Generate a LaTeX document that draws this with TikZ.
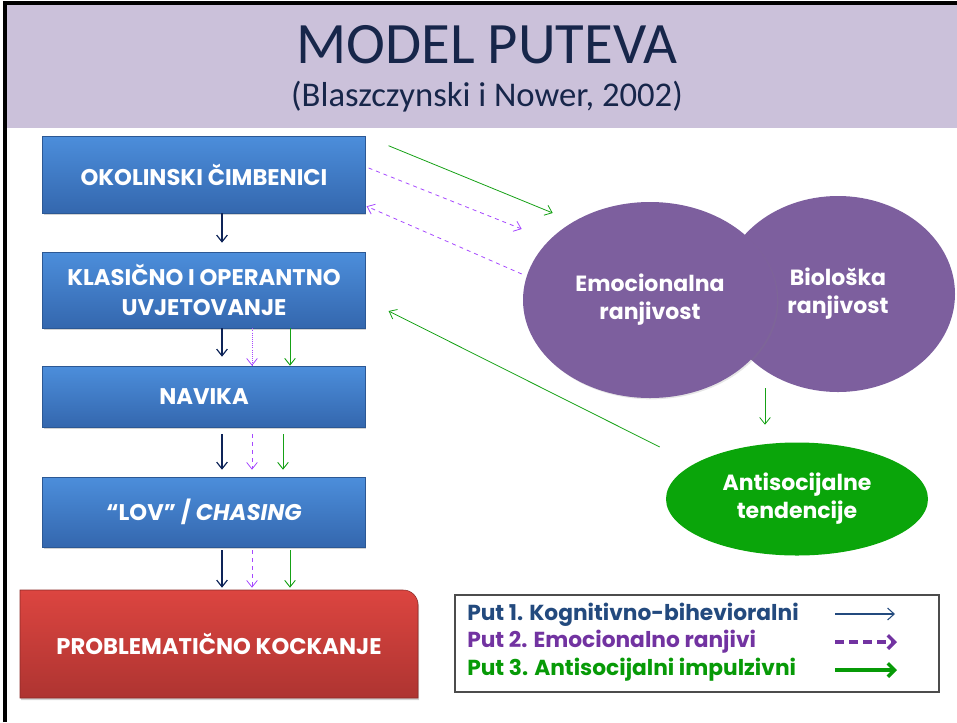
\documentclass[tikz,border=0pt]{standalone}
\usepackage{fontspec}
\setmainfont{Carlito}
\newfontfamily\gothic{Poppins}
\usetikzlibrary{arrows.meta,calc,shadows,shapes.geometric}
\definecolor{band}{HTML}{CBC1DA}
\definecolor{titlenavy}{HTML}{17264A}
\definecolor{boxtop}{HTML}{4C8EDB}
\definecolor{boxbot}{HTML}{3467AE}
\definecolor{redtop}{HTML}{DC4540}
\definecolor{redbot}{HTML}{AE3431}
\definecolor{lila}{HTML}{7D5F9E}
\definecolor{zelena}{HTML}{0AA50A}
\definecolor{put1}{HTML}{0E2458}
\definecolor{put2}{HTML}{A648FF}
\definecolor{put3}{HTML}{16A116}
\definecolor{leg1}{HTML}{234A7E}
\definecolor{leg2}{HTML}{7233A1}
\definecolor{leg3}{HTML}{079A07}

\begin{document}
\begin{tikzpicture}[x=0.75pt,y=-0.75pt,
    korak/.style={rectangle,top color=boxtop,bottom color=boxbot,draw=boxbot!85!black,
        line width=0.4pt,minimum width=242pt,inner sep=2pt,text=white,align=center,
        font=\gothic\bfseries\fontsize{17}{22}\selectfont,
        drop shadow={opacity=0.35,shadow xshift=0.8pt,shadow yshift=-1.5pt}},
    oval/.style={ellipse,fill=lila,inner sep=0pt,text=white,align=center,
        font=\gothic\bfseries\fontsize{16.5}{21}\selectfont},
    pnavy/.style={put1,line width=0.9pt,-{Straight Barb[length=5pt,width=8pt]}},
    plila/.style={put2,line width=0.6pt,-{Straight Barb[length=5pt,width=8pt]}},
    pzel/.style={put3,line width=0.7pt,-{Straight Barb[length=5pt,width=8pt]}},
    legtxt/.style={anchor=west,inner sep=0pt,font=\gothic\bfseries\fontsize{16.3}{18}\selectfont}]

    \useasboundingbox (0,0) rectangle (957,722);

    % Title
    \fill[band] (5,3) rectangle (957,128);
    \draw[line width=3pt] (5,722) -- (5,3) -- (957,3);
    \node[text=titlenavy,font=\fontsize{44}{48}\selectfont] (titl) at (487,45) {MODEL PUTEVA};
    \node[text=titlenavy,font=\fontsize{26}{30}\selectfont] (sub) at (487,97) {(Blaszczynski i Nower, 2002)};

    % Steps
    \node[korak,minimum height=57.75pt] (okol) at (204,174.5) {OKOLINSKI ČIMBENICI};
    \node[korak,minimum height=57pt] (klas) at (204,290) {KLASIČNO I OPERANTNO\\UVJETOVANJE};
    \node[korak,minimum height=45.75pt] (nav) at (204,396.5) {NAVIKA};
    \node[korak,minimum height=52.5pt] (lov) at (204,512) {“LOV” / \textit{CHASING}};

    \shade[top color=redtop,bottom color=redbot,draw=redbot!80!black,line width=0.4pt,
        drop shadow={opacity=0.35,shadow xshift=0.8pt,shadow yshift=-1.5pt}]
        (20,698) -- (20,590) [rounded corners=11pt] -- (418,590) [sharp corners] -- (418,698) -- cycle;
    \node[text=white,minimum width=298.5pt,minimum height=81pt,inner sep=0pt,
        font=\gothic\bfseries\fontsize{17}{20}\selectfont] (kock) at (219,644) {PROBLEMATIČNO KOCKANJE};

    % Vulnerabilities
    \node[oval,minimum width=175.5pt,minimum height=147pt] (bio) at (838,294) {Biološka\\ranjivost};
    \node[oval,minimum width=190.5pt,minimum height=147pt,
        drop shadow={opacity=0.2,shadow xshift=1pt,shadow yshift=-1pt}] (emo) at (650,300) {Emocionalna\\ranjivost};
    \node[oval,fill=zelena,minimum width=196.5pt,minimum height=84.75pt] (anti) at (797,499) {Antisocijalne\\tendencije};

    % Paths down the chain
    \draw[pnavy] ($(okol.south)+(18,0)$) -- ($(klas.north)+(18,-9)$);
    \draw[pnavy] ($(klas.south)+(18,0)$) -- ($(nav.north)+(18,-9)$);
    \draw[pnavy] ($(nav.south)+(18,7)$) -- ($(lov.north)+(18,-7)$);
    \draw[pnavy] ($(lov.south)+(18,3)$) -- ($(kock.north)+(3,-2)$);
    \draw[plila,densely dotted] ($(klas.south)+(48,0)$) -- ($(nav.north)+(48,0)$);
    \draw[plila,dashed] ($(nav.south)+(48,7)$) -- ($(lov.north)+(48,-7)$);
    \draw[plila,dashed] ($(lov.south)+(48,3)$) -- ($(kock.north)+(33,-2)$);
    \draw[pzel] ($(klas.south)+(86,0)$) -- ($(nav.north)+(86,0)$);
    \draw[pzel] ($(nav.south)+(79,7)$) -- ($(lov.north)+(79,-7)$);
    \draw[pzel] ($(lov.south)+(86,3)$) -- ($(kock.north)+(71,-2)$);

    % Paths to and from the ovals
    \draw[pzel,line width=0.6pt] ($(okol.north east)+(23,10)$) -- ($(emo.west)+(30,-87)$);
    \draw[plila,dashed] ($(okol.east)+(3,-6.5)$) -- ($(emo.west)+(-1,-71)$);
    \draw[plila,dashed] ($(emo.west)+(-1,-26)$) -- ($(okol.south east)+(1,-7)$);
    \draw[pzel,line width=0.6pt] ($(bio.south)+(-73,-4)$) -- ($(anti.north)+(-32,-17.5)$);
    \draw[pzel,line width=0.6pt] ($(anti.west)+(-6,-52)$) -- ($(klas.east)+(23,21)$);

    % Legend
    \node[draw=black!70,line width=0.8pt,minimum width=363pt,minimum height=72.75pt] (leg) at (697,643.5) {};
    \node[legtxt,text=leg1] (l1) at (467,615) {Put 1. Kognitivno-bihevioralni};
    \node[legtxt,text=leg2] (l2) at (467,642) {Put 2. Emocionalno ranjivi};
    \node[legtxt,text=leg3] (l3) at (467,670) {Put 3. Antisocijalni impulzivni};
    \coordinate (a1) at (835,614); \coordinate (b1) at (895,614);
    \coordinate (a2) at (835,642); \coordinate (b2) at (897,642);
    \coordinate (a3) at (835,670); \coordinate (b3) at (897,670);
    \draw[leg1,line width=0.8pt,-{Straight Barb[length=5pt,width=9pt]}] (a1) -- (b1);
    \draw[leg2,line width=2.6pt,dash pattern=on 7pt off 3.5pt,-{Straight Barb[length=5pt,width=10pt]}] (a2) -- (b2);
    \draw[leg3,line width=2.6pt,-{Straight Barb[length=5pt,width=10pt]}] (a3) -- (b3);
\end{tikzpicture}
\end{document}
